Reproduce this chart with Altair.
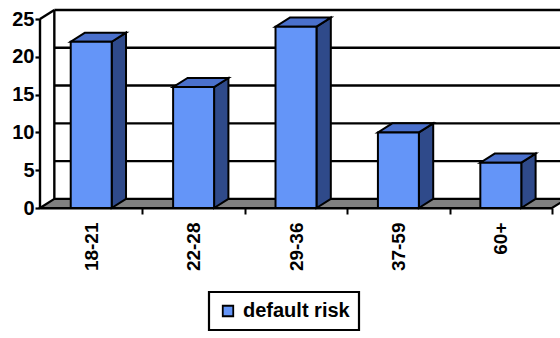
import altair as alt
import pandas as pd

# Chart values
categories = ["18-21", "22-28", "29-36", "37-59", "60+"]
values = [22, 16, 24, 10, 6]
series_name = "default risk"
y_ticks = [0, 5, 10, 15, 20, 25]

# Styling for the pseudo-3D columns
FONT = "Liberation Sans"
FRONT = "#6495F8"
TOP = "#4A70CC"
SIDE = "#2F4A8A"
FLOOR = "#808080"
BAR_W = 0.4      # column width, in category units
DX = 0.14        # depth shift to the right, in category units
DY = 1.2         # depth shift upwards, in value units
Y_MAX = y_ticks[-1]
N = len(categories)

# Front faces of the columns
front = pd.DataFrame({
    "cat": categories,
    "series": series_name,
    "x": [i + 0.5 - BAR_W / 2 for i in range(N)],
    "x2": [i + 0.5 + BAR_W / 2 for i in range(N)],
    "y": 0.0,
    "y2": values,
})

# Right-hand side faces and top faces of the columns
side_rows, top_rows = [], []
for i, (c, v) in enumerate(zip(categories, values)):
    xr = i + 0.5 + BAR_W / 2
    xl = i + 0.5 - BAR_W / 2
    side_rows.append({"cat": c, "x": xr, "y": 0.0, "y2": v})
    side_rows.append({"cat": c, "x": xr + DX, "y": DY, "y2": v + DY})
    top_rows.append({"cat": c, "y": v, "x": xl, "x2": xr})
    top_rows.append({"cat": c, "y": v + DY, "x": xl + DX, "x2": xr + DX})
side = pd.DataFrame(side_rows)
top = pd.DataFrame(top_rows)

# Floor of the plot
floor = pd.DataFrame([
    {"part": "floor", "y": 0.0, "x": 0.0, "x2": float(N)},
    {"part": "floor", "y": DY, "x": DX, "x2": N + DX},
])

# Wall edges and back-wall gridlines
segs = [
    {"x": 0.0, "y": 0.0, "x2": 0.0, "y2": Y_MAX},
    {"x": 0.0, "y": Y_MAX, "x2": DX, "y2": Y_MAX + DY},
    {"x": DX, "y": DY, "x2": DX, "y2": Y_MAX + DY},
]
for t in y_ticks[1:]:
    segs.append({"x": DX, "y": t + DY, "x2": N + DX, "y2": t + DY})
lines = pd.DataFrame(segs)

names_js = "[" + ",".join("'" + c + "'" for c in categories) + "]"
x_axis = alt.Axis(
    title=None,
    values=[k / 2 for k in range(1, 2 * N + 1)],
    labelExpr="datum.value % 1 ? " + names_js + "[floor(datum.value)] : ''",
    labelAngle=-90,
    labelFont=FONT,
    labelFontSize=19,
    labelFontWeight="bold",
    labelColor="black",
    labelPadding=8,
    tickSize=6,
    tickWidth=2,
    tickColor="black",
    tickOpacity={"condition": {"test": "datum.value % 1 === 0", "value": 1}, "value": 0},
    domain=True,
    domainColor="black",
    domainWidth=2.2,
    grid=False,
)
y_axis = alt.Axis(
    title=None,
    values=y_ticks,
    labelFont=FONT,
    labelFontSize=20,
    labelFontWeight="bold",
    labelColor="black",
    labelPadding=1,
    tickSize=5,
    tickWidth=2.2,
    tickColor="black",
    domain=False,
    grid=False,
)
x_scale = alt.Scale(domain=[0, N], nice=False, zero=False)
y_scale = alt.Scale(domain=[0, Y_MAX + DY], nice=False)

X = alt.X("x:Q", scale=x_scale, axis=x_axis)
Y = alt.Y("y:Q", scale=y_scale, axis=y_axis)

floor_layer = alt.Chart(floor).mark_area(
    orient="horizontal", fill=FLOOR, stroke="black", strokeWidth=2.2
).encode(y=Y, x=X, x2="x2:Q", detail="part:N")

line_layer = alt.Chart(lines).mark_rule(color="black", strokeWidth=2.4).encode(
    x=X, y=Y, x2="x2:Q", y2="y2:Q"
)

side_layer = alt.Chart(side).mark_area(
    orient="vertical", fill=SIDE, stroke="black", strokeWidth=2
).encode(x=X, y=Y, y2="y2:Q", detail="cat:N")

top_layer = alt.Chart(top).mark_area(
    orient="horizontal", fill=TOP, stroke="black", strokeWidth=2
).encode(y=Y, x=X, x2="x2:Q", detail="cat:N")

front_layer = alt.Chart(front).mark_rect(stroke="black", strokeWidth=2).encode(
    x=X,
    x2="x2:Q",
    y=Y,
    y2="y2:Q",
    color=alt.Color(
        "series:N",
        scale=alt.Scale(range=[FRONT]),
        legend=alt.Legend(
            title=None,
            orient="none",
            legendX=169,
            legendY=282,
            symbolType="square",
            symbolSize=110,
            symbolStrokeColor="black",
            symbolStrokeWidth=1.8,
            labelFont=FONT,
            labelFontSize=20,
            labelFontWeight="bold",
            labelColor="black",
            labelOffset=5,
            padding=9,
            strokeColor="black",
            fillColor="white",
        ),
    ),
)

chart = alt.layer(
    floor_layer, line_layer, side_layer, top_layer, front_layer
).properties(
    width=512,
    height=198,
    autosize=alt.AutoSizeParams(type="none"),
    padding={"left": 40, "top": 10, "right": 8, "bottom": 130},
    background="white",
).configure_view(stroke=None).configure_legend(strokeWidth=2.2)

chart.save("out.html", embed_options={"renderer": "svg", "actions": False})
